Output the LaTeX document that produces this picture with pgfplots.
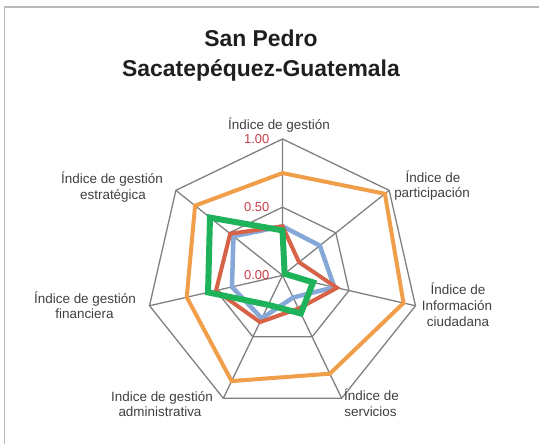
\documentclass[border=0pt]{standalone}
\usepackage{fontspec}
\setmainfont{Liberation Sans}
\usepackage{pgfplots}
\pgfplotsset{compat=1.18}
\definecolor{cOrange}{RGB}{241,158,74}
\definecolor{cRed}{RGB}{214,98,72}
\definecolor{cBlue}{RGB}{134,168,216}
\definecolor{cGreen}{RGB}{30,178,90}
\definecolor{cGrid}{RGB}{128,128,128}
\definecolor{cTick}{RGB}{200,60,72}
\definecolor{cLabel}{RGB}{64,64,64}

% one line of text, placed by its baseline centre
\newcommand{\lbl}[3]{\node[anchor=base, inner sep=0pt, text=cLabel,
  font=\fontsize{13.5}{16}\selectfont] at (#1,#2) {#3};}

\begin{document}
\begin{tikzpicture}[x=1bp,y=1bp]
\useasboundingbox (0,0) rectangle (539,444);
\draw[gray!55, line width=1.3bp] (4.5,0) -- (4.5,437) -- (539,437);

\begin{axis}[
  at={(282.5bp,168.6bp)}, anchor=center,
  scale only axis, x=136.4bp, y=136.4bp,
  xmin=-1.1, xmax=1.1, ymin=-1.1, ymax=1.1,
  hide axis, clip=false,
]
% grid: heptagons at 0.5 and 1.0, spokes
\addplot[cGrid, line width=1.3bp, data cs=polar] coordinates {
  (90,1) (38.571,1) (-12.857,1) (-64.286,1) (-115.714,1) (-167.143,1) (141.429,1)} -- cycle;
\addplot[cGrid, line width=1.3bp, data cs=polar] coordinates {
  (90,0.5) (38.571,0.5) (-12.857,0.5) (-64.286,0.5) (-115.714,0.5) (-167.143,0.5) (141.429,0.5)} -- cycle;
\addplot[cGrid, line width=1.3bp, line join=round, data cs=polar] coordinates {
  (90,1) (90,0) (38.571,1) (38.571,0) (-12.857,1) (-12.857,0) (-64.286,1) (-64.286,0)
  (-115.714,1) (-115.714,0) (-167.143,1) (-167.143,0) (141.429,1)};

% series
\addplot[cOrange, line width=4bp, data cs=polar] coordinates {
  (90,0.75) (38.571,0.96) (-12.857,0.91) (-64.286,0.80) (-115.714,0.86) (-167.143,0.72) (141.429,0.82)} -- cycle;
\addplot[cBlue, line width=4.5bp, data cs=polar] coordinates {
  (90,0.36) (38.571,0.35) (-12.857,0.39) (-64.286,0.18) (-115.714,0.35) (-167.143,0.38) (141.429,0.46)} -- cycle;
\addplot[cRed, line width=4bp, data cs=polar] coordinates {
  (90,0.36) (38.571,0.155) (-12.857,0.41) (-64.286,0.27) (-115.714,0.38) (-167.143,0.50) (141.429,0.49)} -- cycle;
\addplot[cGreen, line width=6bp, data cs=polar] coordinates {
  (90,0.33) (38.571,0.02) (-12.857,0.23) (-64.286,0.31) (-115.714,0.24) (-167.143,0.56) (141.429,0.68)} -- cycle;
\end{axis}

% title
\node[anchor=base, inner sep=0pt, text=black!88, font=\fontsize{23}{28}\selectfont\bfseries] at (261,397) {San Pedro};
\node[anchor=base, inner sep=0pt, text=black!88, font=\fontsize{23}{28}\selectfont\bfseries] at (261,367) {Sacatepéquez-Guatemala};

% tick labels
\foreach \yy/\tt in {300.7/1.00, 232.3/0.50, 164/0.00}
  \node[anchor=base east, inner sep=0pt, text=cTick, font=\fontsize{13}{15}\selectfont] at (269.5,\yy) {\tt};

% category labels
\lbl{279}{314.5}{Índice de gestión}
\lbl{433}{261.5}{Índice de}
\lbl{432}{246}{participación}
\lbl{458}{149}{Índice de}
\lbl{457}{133.3}{Información}
\lbl{458}{117}{ciudadana}
\lbl{371.5}{43}{Índice de}
\lbl{370.5}{27.5}{servicios}
\lbl{162}{42.3}{Indice de gestión}
\lbl{160}{27.3}{administrativa}
\lbl{85}{140.7}{Índice de gestión}
\lbl{84.5}{125.7}{financiera}
\lbl{112}{260.7}{Índice de gestión}
\lbl{113}{244.7}{estratégica}
\end{tikzpicture}
\end{document}
